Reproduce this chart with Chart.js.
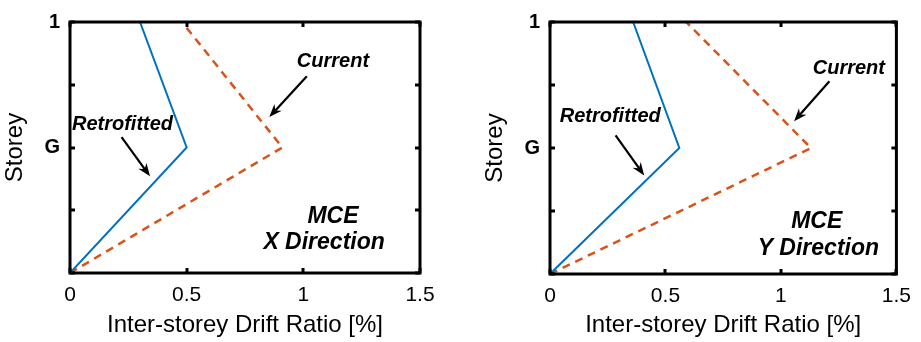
<!DOCTYPE html>
<html>
<head>
<meta charset="utf-8">
<script src="https://cdn.jsdelivr.net/npm/chart.js@4.4.1/dist/chart.umd.min.js"></script>
<style>
    html, body { margin: 0; padding: 0; background: #fff; }
    #wrap { position: relative; width: 921px; height: 342px; }
    canvas { position: absolute; top: 0; }
    #chartX { left: 0; }
    #chartY { left: 460px; }
</style>
</head>
<body>
<div id="wrap">
    <canvas id="chartX" width="460" height="342"></canvas>
    <canvas id="chartY" width="461" height="342"></canvas>
</div>
<script>
// Storey levels (0 = base, 1 = G, 2 = first floor)
const storeyLevels = [0, 1, 2];
const storeyTickLabels = { 1: 'G', 2: '1' };

// Inter-storey drift ratio [%], X direction
const retrofittedX = [0, 0.50, 0.30];
const currentX = [0, 0.91, 0.48];

// Inter-storey drift ratio [%], Y direction
const retrofittedY = [0, 0.56, 0.36];
const currentY = [0, 1.13, 0.59];

const FONT = "'Liberation Sans', Arial, Helvetica, sans-serif";
const BLUE = '#0072BD';
const ORANGE = '#D95319';

// Text labels and arrows, placed in data units
const notesX = {
    texts: [
        { text: 'Current', x: 1.127, y: 1.70, size: 20 },
        { text: 'Retrofitted', x: 0.225, y: 1.20, size: 20 },
        { text: 'MCE', x: 1.127, y: 0.467, size: 23 },
        { text: 'X Direction', x: 1.089, y: 0.253, size: 23 }
    ],
    arrows: [
        { from: [1.015, 1.567], to: [0.854, 1.243] },
        { from: [0.221, 1.082], to: [0.343, 0.770] }
    ]
};

const notesY = {
    texts: [
        { text: 'Current', x: 1.294, y: 1.645, size: 20 },
        { text: 'Retrofitted', x: 0.261, y: 1.263, size: 20 },
        { text: 'MCE', x: 1.155, y: 0.43, size: 23 },
        { text: 'Y Direction', x: 1.162, y: 0.214, size: 23 }
    ],
    arrows: [
        { from: [1.21, 1.53], to: [1.057, 1.212] },
        { from: [0.284, 1.10], to: [0.408, 0.782] }
    ]
};

// Black box with inward tick marks, MATLAB style
const framePlugin = {
    id: 'frame',
    afterDatasetsDraw(chart) {
        const { ctx, chartArea: a, scales } = chart;
        const len = 5;
        ctx.save();
        ctx.strokeStyle = '#000';
        ctx.lineWidth = 3;
        ctx.lineCap = 'butt';
        ctx.beginPath();
        scales.x.ticks.forEach(t => {
            const px = Math.round(scales.x.getPixelForValue(t.value));
            ctx.moveTo(px, a.bottom); ctx.lineTo(px, a.bottom - len);
            ctx.moveTo(px, a.top); ctx.lineTo(px, a.top + len);
        });
        scales.y.ticks.forEach(t => {
            const py = Math.round(scales.y.getPixelForValue(t.value));
            ctx.moveTo(a.left, py); ctx.lineTo(a.left + len, py);
            ctx.moveTo(a.right, py); ctx.lineTo(a.right - len, py);
        });
        ctx.stroke();
        ctx.strokeRect(a.left, a.top, a.right - a.left, a.bottom - a.top);
        ctx.restore();
    }
};

const notesPlugin = {
    id: 'notes',
    afterDraw(chart, args, opts) {
        const { ctx, scales } = chart;
        const sx = v => scales.x.getPixelForValue(v);
        const sy = v => scales.y.getPixelForValue(v);
        ctx.save();
        ctx.fillStyle = '#000';
        ctx.textAlign = 'center';
        ctx.textBaseline = 'alphabetic';
        opts.texts.forEach(t => {
            ctx.font = `italic bold ${t.size}px ${FONT}`;
            ctx.fillText(t.text, sx(t.x), sy(t.y) + t.size * 0.358);
        });
        ctx.strokeStyle = '#000';
        ctx.lineWidth = 2.2;
        opts.arrows.forEach(ar => {
            const x0 = sx(ar.from[0]), y0 = sy(ar.from[1]);
            const x1 = sx(ar.to[0]), y1 = sy(ar.to[1]);
            const ang = Math.atan2(y1 - y0, x1 - x0);
            const L = 13, W = 5, N = 9;
            const ux = Math.cos(ang), uy = Math.sin(ang);
            ctx.beginPath();
            ctx.moveTo(x0, y0);
            ctx.lineTo(x1 - ux * N, y1 - uy * N);
            ctx.stroke();
            ctx.beginPath();
            ctx.moveTo(x1, y1);
            ctx.lineTo(x1 - ux * L - uy * W, y1 - uy * L + ux * W);
            ctx.lineTo(x1 - ux * N, y1 - uy * N);
            ctx.lineTo(x1 - ux * L + uy * W, y1 - uy * L - ux * W);
            ctx.closePath();
            ctx.fill();
        });
        ctx.restore();
    }
};

function toPoints(drifts) {
    return storeyLevels.map((s, i) => ({ x: drifts[i], y: s }));
}

function buildChart(canvas, retrofitted, current, notes, box) {
    return new Chart(canvas, {
        type: 'line',
        data: {
            datasets: [
                {
                    label: 'Retrofitted',
                    data: toPoints(retrofitted),
                    borderColor: BLUE,
                    borderWidth: 2,
                    pointRadius: 0,
                    tension: 0,
                    fill: false
                },
                {
                    label: 'Current',
                    data: toPoints(current),
                    borderColor: ORANGE,
                    borderWidth: 2.5,
                    borderDash: [8, 6],
                    pointRadius: 0,
                    tension: 0,
                    fill: false
                }
            ]
        },
        options: {
            responsive: false,
            animation: false,
            devicePixelRatio: 1,
            layout: { padding: { top: box.top, right: box.right, left: 0, bottom: 0 } },
            plugins: {
                legend: { display: false },
                tooltip: { enabled: false },
                notes: notes
            },
            scales: {
                x: {
                    type: 'linear',
                    min: 0,
                    max: 1.5,
                    grid: { display: false, drawTicks: false },
                    border: { display: false },
                    ticks: {
                        stepSize: 0.5,
                        color: '#000',
                        padding: 10,
                        maxRotation: 0,
                        font: { family: FONT, size: 21 },
                        callback: v => String(v)
                    },
                    title: {
                        display: true,
                        text: 'Inter-storey Drift Ratio [%]',
                        color: '#000',
                        padding: { top: 0, bottom: 2 },
                        font: { family: FONT, size: 24 }
                    },
                    afterFit(scale) { scale.height = box.xHeight; }
                },
                y: {
                    type: 'linear',
                    min: 0,
                    max: 2,
                    grid: { display: false, drawTicks: false },
                    border: { display: false },
                    ticks: {
                        stepSize: 0.5,
                        color: '#000',
                        padding: 10,
                        autoSkip: false,
                        font: { family: FONT, size: 20, weight: 'bold' },
                        callback: v => storeyTickLabels[v] || ''
                    },
                    title: {
                        display: true,
                        text: 'Storey',
                        color: '#000',
                        padding: { top: box.titlePad, bottom: 0 },
                        font: { family: FONT, size: 24 }
                    },
                    afterFit(scale) { scale.width = box.yWidth; }
                }
            }
        },
        plugins: [framePlugin, notesPlugin]
    });
}

buildChart(document.getElementById('chartX'), retrofittedX, currentX, notesX,
    { top: 16, right: 40, xHeight: 69, yWidth: 70, titlePad: 1 });
buildChart(document.getElementById('chartY'), retrofittedY, currentY, notesY,
    { top: 18, right: 21, xHeight: 68, yWidth: 90, titlePad: 21 });
</script>
</body>
</html>
